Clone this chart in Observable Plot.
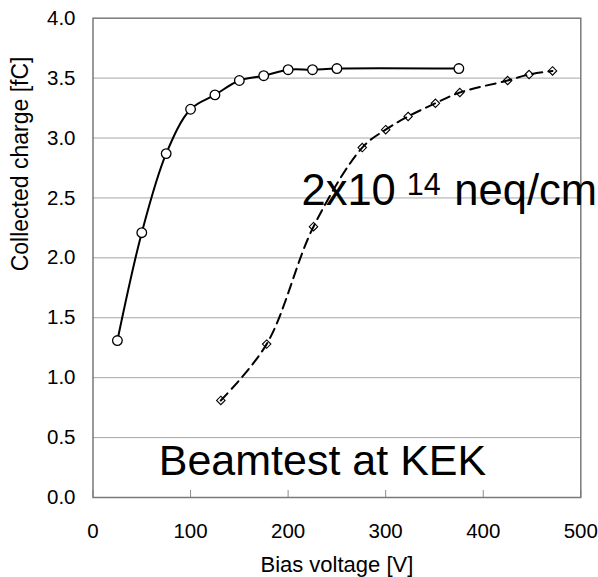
<!DOCTYPE html>
<html><head><meta charset="utf-8">
<script src="https://cdn.jsdelivr.net/npm/d3@7"></script>
<script src="https://cdn.jsdelivr.net/npm/@observablehq/plot@0.6"></script>
<style>html,body{margin:0;padding:0;background:#fff;overflow:hidden}svg{overflow:hidden}</style>
</head><body><div id="chart"></div>
<script>
// Series 1 (circles, solid line)
const circleX = [25, 50, 75, 100, 125, 150, 175, 200, 225, 250, 375];
const circleY = [1.31, 2.21, 2.87, 3.24, 3.36, 3.48, 3.52, 3.57, 3.57, 3.58, 3.58];
// Series 2 (diamonds, dashed line)
const diamondX = [131, 178, 226, 276, 300, 323, 351, 376, 425, 447, 471];
const diamondY = [0.81, 1.28, 2.26, 2.92, 3.07, 3.18, 3.29, 3.38, 3.48, 3.53, 3.56];
// Axis ticks
const xTicks = [0, 100, 200, 300, 400, 500];
const yTicks = [0, 0.5, 1, 1.5, 2, 2.5, 3, 3.5, 4];
const yGrid = [0.5, 1, 1.5, 2, 2.5, 3, 3.5];
// Texts
const xLabel = "Bias voltage [V]";
const yLabel = "Collected charge [fC]";
const fluenceLabel = ["2x10", "14", " neq/cm", "2"];
const beamLabel = "Beamtest at KEK";

const circles = circleX.map((x, i) => ({x, y: circleY[i]}));
const diamonds = diamondX.map((x, i) => ({x, y: diamondY[i]}));

const font = "'Liberation Sans', Arial, sans-serif";

const chart = Plot.plot({
  width: 598, height: 577,
  marginLeft: 92.5, marginRight: 17.7, marginTop: 17.7, marginBottom: 80,
  style: {fontFamily: font, background: "#fff", color: "#000", overflow: "hidden"},
  x: {domain: [0, 500]},
  y: {domain: [0, 4]},
  marks: [
    Plot.ruleY(yGrid, {stroke: "#a6a6a6", strokeWidth: 1}),
    Plot.axisX(xTicks, {tickSize: -7, text: null, stroke: "#8c8c8c", label: null}),
    Plot.axisX(xTicks, {tickSize: 0, tickPadding: 25.7, fontSize: 20.5, label: null, fill: "#000"}),
    Plot.axisY(yTicks, {tickSize: 0, tickPadding: 17.5, fontSize: 20.5, label: null, fill: "#000", tickFormat: d3.format(".1f")}),
    Plot.frame({stroke: "#7a7a7a", strokeWidth: 1.5}),
    Plot.line(diamonds, {x: "x", y: "y", curve: "catmull-rom", stroke: "#000", strokeWidth: 2, strokeDasharray: "10,6"}),
    Plot.dot(diamonds, {x: "x", y: "y", symbol: "diamond2", r: 3.8, stroke: "#000", fill: "none", strokeWidth: 1.1}),
    Plot.line(circles, {x: "x", y: "y", curve: "catmull-rom", stroke: "#000", strokeWidth: 2}),
    Plot.dot(circles, {x: "x", y: "y", r: 4.8, stroke: "#000", fill: "#fff", strokeWidth: 1.3}),
    Plot.text([beamLabel], {x: 67.4, y: 0.184, textAnchor: "start", lineAnchor: "bottom", fontSize: 43, fill: "#000"}),
    Plot.text([fluenceLabel.join("")], {x: 213.7, y: 2.437, textAnchor: "start", lineAnchor: "bottom", fontSize: 43.5, fill: "#000"}),
    Plot.text([xLabel], {frameAnchor: "bottom", dy: 67.5, lineAnchor: "middle", fontSize: 22, fill: "#000"}),
    Plot.text([yLabel], {frameAnchor: "left", dx: -72.8, dy: 13.5, rotate: -90, lineAnchor: "middle", fontSize: 23, fill: "#000"})
  ]
});

// superscripts for the fluence annotation
const ns = "http://www.w3.org/2000/svg";
chart.querySelectorAll("text").forEach(t => {
  if (t.textContent === fluenceLabel.join("")) {
    t.textContent = "";
    const parts = [
      {s: fluenceLabel[0]},
      {s: fluenceLabel[1], fs: 30.5, dy: -10, dx: 11},
      {s: fluenceLabel[2], fs: 43.5, dy: 10, dx: 1.5},
      {s: fluenceLabel[3], fs: 30.5, dy: -10}
    ];
    parts.forEach(p => {
      const ts = document.createElementNS(ns, "tspan");
      ts.textContent = p.s;
      if (p.fs) ts.setAttribute("font-size", p.fs);
      if (p.dy) ts.setAttribute("dy", p.dy);
      if (p.dx) ts.setAttribute("dx", p.dx);
      t.appendChild(ts);
    });
  }
});
document.getElementById("chart").appendChild(chart);
</script>
</body></html>
